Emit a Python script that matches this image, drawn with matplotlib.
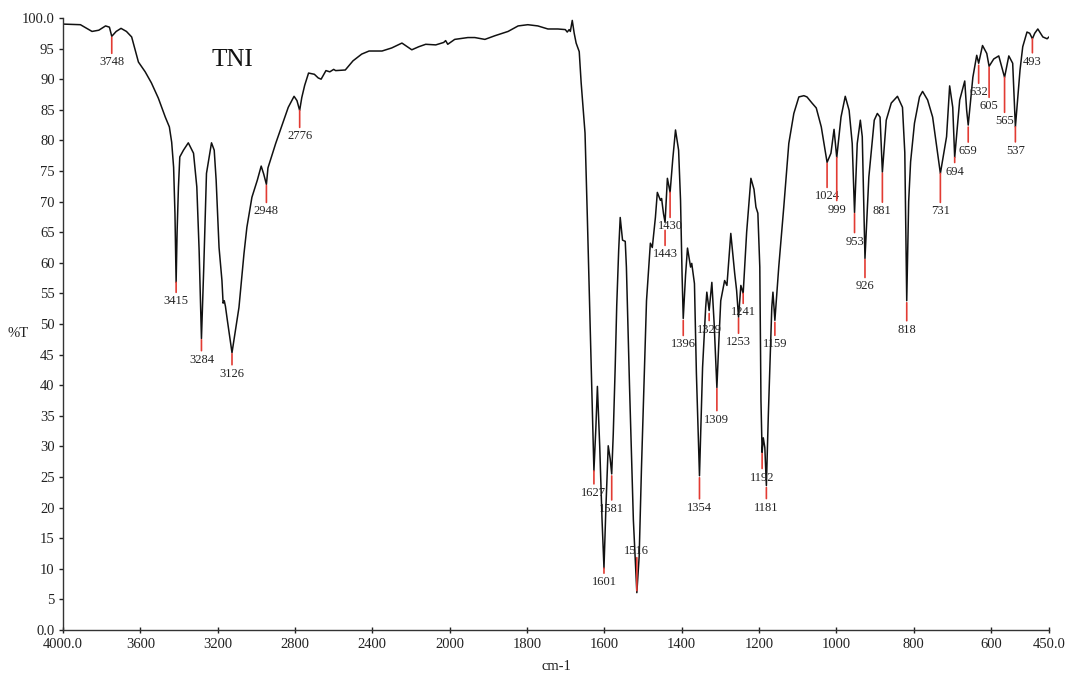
import numpy as np
import matplotlib
matplotlib.use("Agg")
import matplotlib.pyplot as plt

# spectrum (wavenumber cm-1, %T)
wavenumber = [4000, 3910, 3850, 3815, 3780, 3760, 3748, 3725, 3700, 3672, 3645, 3610,
              3575, 3543, 3507, 3471, 3450, 3438, 3428, 3421, 3415, 3410, 3403, 3396,
              3377, 3352, 3325, 3308, 3296, 3284, 3272, 3258, 3232, 3218, 3208, 3193,
              3178, 3172, 3166, 3160, 3150, 3126, 3090, 3064, 3049, 3023, 2995, 2975,
              2962, 2948, 2940, 2930, 2900, 2870, 2835, 2805, 2790, 2776, 2765, 2750,
              2730, 2700, 2680, 2665, 2640, 2620, 2600, 2590, 2540, 2500, 2455, 2417,
              2350, 2300, 2247, 2215, 2196, 2160, 2124, 2072, 2031, 2021, 2010, 1987,
              1953, 1935, 1909, 1883, 1849, 1823, 1798, 1772, 1746, 1720, 1701, 1696,
              1691, 1688, 1683, 1678, 1673, 1665, 1660, 1650, 1644, 1637, 1632, 1627,
              1622, 1618, 1612, 1606, 1601, 1596, 1590, 1585, 1581, 1577, 1572, 1568,
              1563, 1559, 1553, 1546, 1543, 1535, 1525, 1516, 1510, 1504, 1491, 1481,
              1476, 1468, 1463, 1455, 1452, 1447, 1443, 1437, 1430, 1423, 1416, 1408,
              1403, 1399, 1396, 1390, 1385, 1377, 1374, 1367, 1362, 1354, 1346, 1338,
              1335, 1329, 1322, 1316, 1309, 1304, 1299, 1289, 1283, 1273, 1263, 1258,
              1253, 1247, 1241, 1232, 1221, 1213, 1208, 1203, 1198, 1195, 1192, 1189,
              1185, 1181, 1176, 1172, 1167, 1164, 1159, 1149, 1136, 1123, 1110, 1097,
              1084, 1076, 1063, 1052, 1039, 1024, 1014, 1006, 999, 988, 977, 967,
              959, 953, 946, 938, 933, 926, 916, 902, 894, 887, 881, 871,
              858, 842, 829, 823, 818, 813, 808, 798, 785, 777, 764, 751,
              731, 715, 707, 699, 694, 681, 668, 663, 659, 647, 637, 632,
              622, 611, 605, 593, 580, 565, 554, 544, 537, 525, 518, 507,
              500, 493, 487, 479, 466, 455, 450]
transmittance = [99.0, 98.9, 97.8, 98.0, 98.7, 98.5, 97.0, 97.8, 98.3, 97.8, 96.9, 92.8,
                 91.2, 89.4, 86.9, 83.8, 82.2, 79.7, 75.6, 68.0, 56.8, 65.0, 72.4, 77.3,
                 78.4, 79.6, 77.9, 72.4, 62.0, 47.6, 59.3, 74.6, 79.6, 78.4, 73.5, 62.5,
                 57.1, 53.4, 53.8, 52.9, 50.6, 45.3, 52.7, 61.5, 65.8, 70.7, 73.5, 75.8,
                 74.5, 72.8, 75.5, 76.5, 79.5, 82.2, 85.4, 87.2, 86.5, 84.9, 87.0, 89.0,
                 91.0, 90.8, 90.2, 90.0, 91.4, 91.2, 91.6, 91.4, 91.5, 93.0, 94.1, 94.6,
                 94.6, 95.1, 95.9, 95.2, 94.8, 95.3, 95.7, 95.6, 96.0, 96.3, 95.7, 96.5,
                 96.8, 96.8, 96.5, 97.1, 97.8, 98.7, 98.9, 98.7, 98.2, 98.2, 98.1, 97.7,
                 98.1, 97.8, 99.6, 97.5, 95.9, 94.5, 89.4, 81.2, 67.4, 50.6, 38.0, 26.0,
                 33.0, 39.8, 30.0, 18.0, 10.1, 20.0, 30.1, 28.0, 25.5, 32.0, 42.9, 53.0,
                 62.0, 67.4, 63.7, 63.5, 59.3, 40.0, 18.0, 6.1, 12.0, 26.5, 53.8, 63.2,
                 62.5, 67.4, 71.5, 70.2, 70.5, 68.0, 66.6, 73.8, 71.5, 77.0, 81.7, 78.4,
                 70.2, 58.0, 50.9, 58.0, 62.4, 59.3, 59.9, 56.6, 42.0, 25.2, 42.9, 52.7,
                 55.2, 52.2, 56.8, 50.0, 39.6, 47.0, 53.8, 57.1, 56.3, 64.8, 58.3, 55.5,
                 51.1, 56.3, 55.0, 65.0, 73.8, 72.0, 69.1, 68.1, 59.3, 37.5, 29.0, 31.4,
                 29.8, 23.6, 35.0, 42.9, 52.7, 55.2, 50.6, 59.3, 69.1, 79.5, 84.4, 87.1,
                 87.3, 87.1, 86.1, 85.3, 82.2, 76.4, 77.9, 81.8, 77.2, 83.8, 87.2, 84.9,
                 79.5, 68.2, 79.5, 83.3, 80.6, 60.7, 74.0, 83.3, 84.4, 83.8, 74.8, 83.3,
                 86.1, 87.2, 85.4, 78.0, 53.8, 70.0, 76.5, 82.8, 87.1, 88.0, 86.6, 83.8,
                 74.6, 80.6, 88.9, 85.4, 77.2, 86.6, 89.7, 84.9, 82.5, 90.3, 93.9, 92.6,
                 95.5, 94.2, 92.1, 93.3, 93.8, 90.3, 93.8, 92.6, 82.2, 91.5, 95.3, 97.7,
                 97.5, 96.6, 97.5, 98.2, 96.9, 96.6, 96.9]

# labelled peaks
peaks = [3748, 3415, 3284, 3126, 2948, 2776, 1627, 1601, 1581, 1516, 1443, 1430,
         1396, 1354, 1329, 1309, 1253, 1241, 1192, 1181, 1159, 1024, 999, 953,
         926, 881, 818, 731, 694, 659, 632, 605, 565, 537, 493]

x_ticks = [4000, 3600, 3200, 2800, 2400, 2000, 1800, 1600, 1400, 1200, 1000, 800, 600, 450]
x_ticklabels = ['4000.0', '3600', '3200', '2800', '2400', '2000', '1800', '1600',
                '1400', '1200', '1000', '800', '600', '450.0']
y_ticks = list(range(0, 101, 5))
y_ticklabels = ['0.0'] + [str(v) for v in y_ticks[1:-1]] + ['100.0']

# marker layout in pixels: gap below the dip, red line length (negative = drawn upward)
mark_gap = [1, 0, 1, 1, 1, 0, 0, 0, 2, 2, 8, 0,
            2, 2, 3, 1, 1, 0, 1, 2, 2, 1, 0, 1,
            1, 1, 2, 0, 0, 2, 2, 1, 0, 0, 0]
mark_len = [16, 10, 11, 11, 17, 17, 13, 5, 24, -33, 15, 25,
            15, 21, 7, 22, 15, 10, 15, 11, 13, 24, 43, 19,
            18, 29, 18, 29, 5, 15, 18, 30, 35, 15, 14]

plt.rcParams['font.family'] = ['Liberation Serif', 'DejaVu Serif']
red = '#e23b33'


def fwd(w):
    w = np.asarray(w, dtype=float)
    return np.where(w > 2000, 2000 + (w - 2000) / 2.0, w)


def inv(u):
    u = np.asarray(u, dtype=float)
    return np.where(u > 2000, 2000 + (u - 2000) * 2.0, u)


fig = plt.figure(figsize=(10.70, 6.73), dpi=100)
ax = fig.add_axes([0.0589, 0.0639, 0.9215, 0.9094])
ax.set_xscale('function', functions=(fwd, inv))
ax.plot(wavenumber, transmittance, color='#111111', lw=1.1)
ax.set_xlim(4000, 450)
ax.set_ylim(0, 100)

wn = np.array(wavenumber[::-1], dtype=float)
tt = np.array(transmittance[::-1], dtype=float)
for w, g, L in zip(peaks, mark_gap, mark_len):
    t = np.interp(w, wn, tt)
    if L > 0:
        ax.annotate('', xy=(w, t), xytext=(0, -(g + L)), textcoords='offset pixels',
                    xycoords='data',
                    arrowprops=dict(arrowstyle='-', color=red, lw=1.2,
                                    shrinkA=0, shrinkB=g * 0.72))
        ax.annotate(str(w), xy=(w, t), xytext=(0, -(g + L + 9)),
                    textcoords='offset pixels', ha='center', va='center',
                    fontsize=9, color='#222222')
    else:
        ax.annotate('', xy=(w, t), xytext=(0, g - L), textcoords='offset pixels',
                    arrowprops=dict(arrowstyle='-', color=red, lw=1.2,
                                    shrinkA=0, shrinkB=g * 0.72))
        ax.annotate(str(w), xy=(w, t), xytext=(0, g - L + 7),
                    textcoords='offset pixels', ha='center', va='center',
                    fontsize=9, color='#222222')

ax.text(3124, 93.1, 'TNI', fontsize=18, ha='center', va='center', color='#111111')

ax.set_xticks(x_ticks)
ax.set_xticklabels(x_ticklabels)
ax.set_yticks(y_ticks)
ax.set_yticklabels(y_ticklabels)
ax.xaxis.set_minor_locator(matplotlib.ticker.NullLocator())
ax.tick_params(axis='x', direction='inout', length=5, width=1, labelsize=10.5,
               colors='#222222', pad=3)
ax.tick_params(axis='y', direction='out', length=3, width=1, labelsize=10.5,
               colors='#222222', pad=3)

for side in ['top', 'right']:
    ax.spines[side].set_visible(False)
for side in ['left', 'bottom']:
    ax.spines[side].set_color('#333333')
    ax.spines[side].set_linewidth(1.0)

ax.set_xlabel('cm-1', fontsize=10.5, color='#222222', va='center')
ax.xaxis.set_label_coords(0.5, -0.059)
ax.set_ylabel('%T', rotation=0, fontsize=10.5, color='#222222', va='center', ha='center')
ax.yaxis.set_label_coords(-0.0456, 0.485)

fig.savefig('out.png', dpi=100)
